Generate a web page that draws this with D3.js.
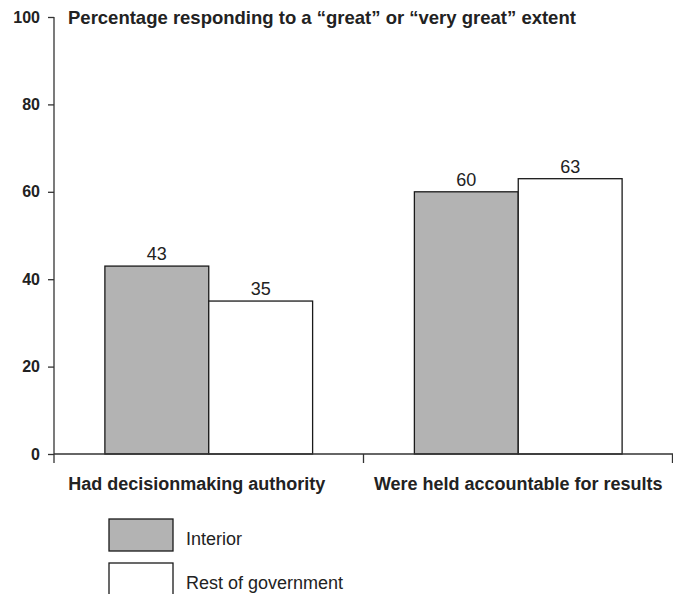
<!DOCTYPE html>
<html><head><meta charset="utf-8">
<script src="https://cdn.jsdelivr.net/npm/d3@7"></script>
<style>body{margin:0;background:#fff}svg{display:block}text{font-family:"Liberation Sans",Arial,sans-serif;fill:#222}</style>
</head><body>
<script>
const categories = ["Had decisionmaking authority", "Were held accountable for results"];
const seriesNames = ["Interior", "Rest of government"];
const interior = [43, 60];
const restOfGov = [35, 63];
const yTicks = [0, 20, 40, 60, 80, 100];
const title = "Percentage responding to a \u201cgreat\u201d or \u201cvery great\u201d extent";
const colors = ["#b3b3b3", "#ffffff"];

const W = 673, H = 594;
const svg = d3.select("body").append("svg").attr("width", W).attr("height", H);
const mLeft = 54, mRight = 673, mTop = 17, mBottom = 454;

const x = d3.scaleBand().domain(categories).range([mLeft, mRight]).paddingInner(0).paddingOuter(0);
const xs = d3.scaleBand().domain(seriesNames).range([0, x.bandwidth()]).paddingInner(0).paddingOuter(0.49);
const y = d3.scaleLinear().domain([0, 100]).range([mBottom, mTop]);

const data = categories.map((c, i) => ({cat: c, vals: [interior[i], restOfGov[i]]}));

// bars
const g = svg.append("g");
data.forEach(d => {
  d.vals.forEach((v, j) => {
    const bx = x(d.cat) + xs(seriesNames[j]);
    g.append("rect").attr("x", bx).attr("y", y(v)).attr("width", xs.bandwidth()).attr("height", y(0) - y(v))
      .attr("fill", colors[j]).attr("stroke", "#1a1a1a").attr("stroke-width", 1.3);
    g.append("text").attr("x", bx + xs.bandwidth() / 2).attr("y", y(v) - 6).attr("text-anchor", "middle")
      .attr("font-size", 18).text(v);
  });
});

// y axis
const yAxis = d3.axisLeft(y).tickValues(yTicks).tickSize(6).tickPadding(8);
const ya = svg.append("g").attr("transform", `translate(${mLeft},0)`).call(yAxis);
ya.select(".domain").attr("d", `M0,${mTop}V${mBottom}`).attr("stroke", "#333").attr("stroke-width", 1.3);
ya.selectAll(".tick line").attr("stroke", "#333").attr("stroke-width", 1.3);
ya.selectAll(".tick text").attr("font-size", 16).attr("font-weight", "bold").attr("fill", "#222")
  .attr("font-family", "'Liberation Sans', Arial, sans-serif");

// x axis
const xa = svg.append("g").attr("transform", `translate(0,${mBottom})`);
xa.append("line").attr("x1", mLeft).attr("x2", mRight).attr("stroke", "#333").attr("stroke-width", 1.3);
const bounds = [...categories.map(c => x(c)), mRight - 0.5];
xa.selectAll(".xt").data(bounds).join("line").attr("x1", d => d).attr("x2", d => d).attr("y1", 0).attr("y2", 9)
  .attr("stroke", "#333").attr("stroke-width", 1.3);
const labelShift = [-12, 0];
xa.selectAll(".xl").data(categories).join("text").attr("x", (d, i) => x(d) + x.bandwidth() / 2 + labelShift[i])
  .attr("y", 36).attr("text-anchor", "middle").attr("font-size", 18).attr("font-weight", "bold").text(d => d);

// title
svg.append("text").attr("x", 68).attr("y", 24).attr("font-size", 18.5).attr("font-weight", "bold").text(title);

// legend
const lg = svg.append("g");
seriesNames.forEach((s, j) => {
  const ly = 519 + j * 44;
  lg.append("rect").attr("x", 109).attr("y", ly).attr("width", 64).attr("height", 32)
    .attr("fill", colors[j]).attr("stroke", "#1a1a1a").attr("stroke-width", 1.3);
  lg.append("text").attr("x", 186).attr("y", ly + 26).attr("font-size", 18).text(s);
});
</script>
</body></html>
